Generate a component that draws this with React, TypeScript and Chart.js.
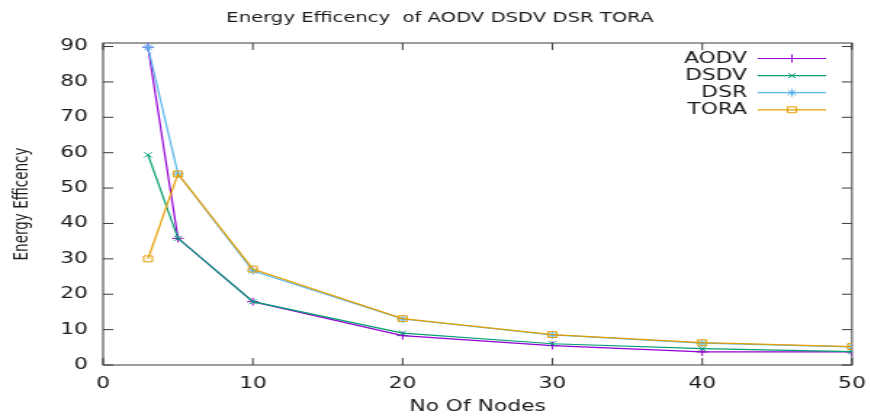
import React, { useEffect, useRef } from 'react';
import { Chart, registerables } from 'chart.js';
import { drawPoint } from 'chart.js/helpers';

Chart.register(...registerables);

// ---- data ----
const nodes = [3, 5, 10, 20, 30, 40, 50];
const aodv = [89.8, 35.8, 17.9, 8.3, 5.5, 3.7, 3.7];
const dsdv = [59.4, 35.8, 17.9, 9.0, 6.0, 4.6, 3.8];
const dsr = [89.8, 54.0, 26.6, 13.0, 8.5, 6.2, 5.1];
const tora = [30.0, 54.0, 27.1, 13.1, 8.6, 6.3, 5.2];
const seriesNames = ['AODV', 'DSDV', 'DSR', 'TORA'];
const xTickValues = [0, 10, 20, 30, 40, 50];
const yTickValues = [0, 10, 20, 30, 40, 50, 60, 70, 80, 90];
const titleText = 'Energy Efficency  of AODV DSDV DSR TORA';
const xTitle = 'No Of Nodes';
const yTitle = 'Energy Efficency';

// ---- styles ----
const seriesValues = [aodv, dsdv, dsr, tora];
const colors = ['#9400D3', '#009E73', '#56B4E9', '#E69F00'];
const pointStyles = ['cross', 'crossRot', 'star', 'rect'];
const pointRadii = [4, 3.6, 4, 4.2];
const FONT = '"DejaVu Sans", Verdana, sans-serif';
const TEXT = '#1a1a1a';
const FRAME = '#3a3a3a';
const LOGICAL_W = 600;
const W = 871;
const H = 416;

const framePlugin = {
  id: 'gnuFrame',
  beforeDatasetsDraw(chart: any) {
    const { ctx, chartArea } = chart;
    const { left, right, top, bottom } = chartArea;
    const xs = chart.scales.x;
    const ys = chart.scales.y;
    ctx.save();
    ctx.strokeStyle = FRAME;
    ctx.lineWidth = 1;
    ctx.strokeRect(left, top, right - left, bottom - top);
    const tl = 7;
    ctx.beginPath();
    for (const v of xTickValues) {
      const px = xs.getPixelForValue(v);
      ctx.moveTo(px, bottom);
      ctx.lineTo(px, bottom - tl);
      ctx.moveTo(px, top);
      ctx.lineTo(px, top + tl);
    }
    for (const v of yTickValues) {
      const py = ys.getPixelForValue(v);
      ctx.moveTo(left, py);
      ctx.lineTo(left + tl, py);
      ctx.moveTo(right, py);
      ctx.lineTo(right - tl, py);
    }
    ctx.stroke();
    ctx.restore();
  },
};

const legendPlugin = {
  id: 'gnuLegend',
  afterDraw(chart: any) {
    const { ctx } = chart;
    const textRight = 514.6;
    const lineStart = 522;
    const lineEnd = 569;
    const firstRow = 58.5;
    const rowGap = 17.1;
    ctx.save();
    chart.data.datasets.forEach((ds: any, i: number) => {
      const y = firstRow + i * rowGap;
      ctx.font = `15px ${FONT}`;
      ctx.fillStyle = TEXT;
      ctx.textAlign = 'right';
      ctx.textBaseline = 'middle';
      ctx.fillText(ds.label, textRight, y + 0.5);
      ctx.strokeStyle = ds.borderColor;
      ctx.lineWidth = ds.borderWidth;
      ctx.beginPath();
      ctx.moveTo(lineStart, y);
      ctx.lineTo(lineEnd, y);
      ctx.stroke();
      ctx.lineWidth = 1;
      ctx.fillStyle = 'rgba(0,0,0,0)';
      drawPoint(
        ctx,
        { pointStyle: ds.pointStyle, radius: ds.pointRadius, rotation: 0, borderWidth: 1 },
        (lineStart + lineEnd) / 2,
        y
      );
    });
    ctx.restore();
  },
};

export default function App() {
  const ref = useRef<HTMLCanvasElement | null>(null);

  useEffect(() => {
    document.body.style.margin = '0';
    const canvas = ref.current;
    if (!canvas) return;
    const datasets = seriesNames.map((name, i) => ({
      label: name,
      data: nodes.map((x, j) => ({ x, y: seriesValues[i][j] })),
      borderColor: colors[i],
      backgroundColor: 'rgba(0,0,0,0)',
      pointBorderColor: colors[i],
      pointBackgroundColor: 'rgba(0,0,0,0)',
      pointStyle: pointStyles[i],
      pointRadius: pointRadii[i],
      pointBorderWidth: 1,
      borderWidth: 1.2,
      tension: 0,
      fill: false,
      order: seriesNames.length - i,
    }));

    const chart = new Chart(canvas, {
      type: 'line',
      data: { datasets },
      options: {
        responsive: false,
        animation: false,
        devicePixelRatio: 1,
        layout: { padding: { left: 6, right: 0, top: 0, bottom: 0 } },
        plugins: {
          legend: { display: false },
          tooltip: { enabled: false },
          title: {
            display: true,
            text: titleText,
            color: TEXT,
            font: { family: FONT, size: 13.5, weight: 'normal' },
            padding: { top: 10.4, bottom: 16.4 },
          },
        },
        scales: {
          x: {
            type: 'linear',
            min: 0,
            max: 50,
            afterBuildTicks: (s: any) => {
              s.ticks = xTickValues.map((v) => ({ value: v }));
            },
            afterFit: (s: any) => {
              s.height = 51;
              s.paddingLeft = 0;
              s.paddingRight = 13.1;
            },
            grid: { display: false, drawTicks: false },
            border: { display: false },
            ticks: {
              padding: 10.5,
              color: TEXT,
              font: { family: FONT, size: 15 },
              maxRotation: 0,
            },
            title: {
              display: true,
              text: xTitle,
              color: TEXT,
              font: { family: FONT, size: 15 },
              padding: { top: 0, bottom: 0 },
            },
          },
          y: {
            type: 'linear',
            min: 0,
            max: 91,
            afterBuildTicks: (s: any) => {
              s.ticks = yTickValues.map((v) => ({ value: v }));
            },
            afterFit: (s: any) => {
              s.width = 65;
              s.paddingTop = 0;
              s.paddingBottom = 0;
            },
            grid: { display: false, drawTicks: false },
            border: { display: false },
            ticks: {
              padding: 10.4,
              color: TEXT,
              font: { family: FONT, size: 15 },
            },
            title: {
              display: true,
              text: yTitle,
              color: TEXT,
              font: { family: FONT, size: 13.5 },
              padding: { top: 1.4, bottom: 0 },
            },
          },
        },
      },
      plugins: [framePlugin, legendPlugin],
    } as any);

    return () => chart.destroy();
  }, []);

  return (
    <canvas
      ref={ref}
      width={LOGICAL_W}
      height={H}
      style={{ width: `${W}px`, height: `${H}px`, display: 'block' }}
    />
  );
}
